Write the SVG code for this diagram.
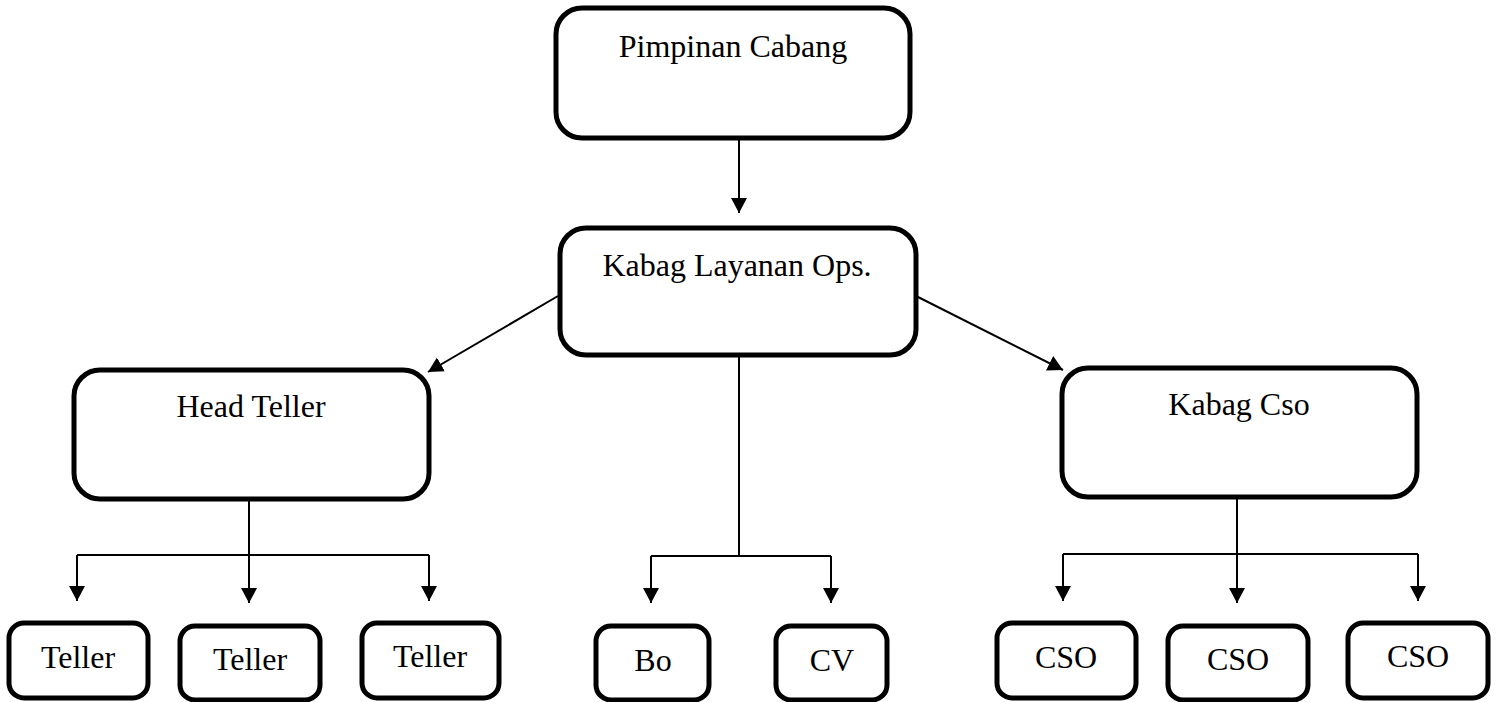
<svg xmlns="http://www.w3.org/2000/svg" width="1499" height="702" viewBox="0 0 1499 702">
<style>
.box{fill:#fff;stroke:#000;stroke-width:5}
.lbl{font-family:"Liberation Serif","Times New Roman",serif;font-size:32px;fill:#000;text-anchor:middle}
.ln{fill:none;stroke:#000;stroke-width:2}
</style>
<defs>
<marker id="ah" markerUnits="userSpaceOnUse" markerWidth="18" markerHeight="18" refX="15" refY="8" orient="auto">
<path d="M0,0 L15,8 L0,16 z" fill="#000"/>
</marker>
</defs>
<rect width="1499" height="702" fill="#fff"/>
<g id="connectors">
<line class="ln" x1="739" y1="138" x2="739" y2="213" marker-end="url(#ah)"/>
<line class="ln" x1="558" y1="296" x2="428" y2="372" marker-end="url(#ah)"/>
<line class="ln" x1="916" y1="296" x2="1063" y2="370" marker-end="url(#ah)"/>
<line class="ln" x1="249" y1="499" x2="249" y2="603" marker-end="url(#ah)"/>
<polyline class="ln" points="77,555 429,555"/>
<line class="ln" x1="77" y1="555" x2="77" y2="601" marker-end="url(#ah)"/>
<line class="ln" x1="429" y1="555" x2="429" y2="601" marker-end="url(#ah)"/>
<line class="ln" x1="739" y1="355" x2="739" y2="556"/>
<polyline class="ln" points="651,556 831,556"/>
<line class="ln" x1="651" y1="556" x2="651" y2="603" marker-end="url(#ah)"/>
<line class="ln" x1="831" y1="556" x2="831" y2="603" marker-end="url(#ah)"/>
<line class="ln" x1="1237" y1="497" x2="1237" y2="603" marker-end="url(#ah)"/>
<polyline class="ln" points="1063,554 1418,554"/>
<line class="ln" x1="1063" y1="554" x2="1063" y2="601" marker-end="url(#ah)"/>
<line class="ln" x1="1418" y1="554" x2="1418" y2="601" marker-end="url(#ah)"/>
</g>
<g id="pimpinan"><rect class="box" x="556" y="8" width="354" height="130" rx="26"/><text class="lbl" x="733" y="57">Pimpinan Cabang</text></g>
<g id="kabag-layanan"><rect class="box" x="560" y="228" width="356" height="127" rx="26"/><text class="lbl" x="737" y="276">Kabag Layanan Ops.</text></g>
<g id="head-teller"><rect class="box" x="74" y="370" width="355" height="129" rx="26"/><text class="lbl" x="251" y="417">Head Teller</text></g>
<g id="kabag-cso"><rect class="box" x="1062" y="368" width="355" height="129" rx="26"/><text class="lbl" x="1239" y="415">Kabag Cso</text></g>
<g id="teller1"><rect class="box" x="9" y="623" width="139" height="75" rx="15"/><text class="lbl" x="78" y="668">Teller</text></g>
<g id="teller2"><rect class="box" x="180" y="626" width="140" height="74" rx="15"/><text class="lbl" x="250" y="670">Teller</text></g>
<g id="teller3"><rect class="box" x="362" y="623" width="137" height="75" rx="15"/><text class="lbl" x="430" y="667">Teller</text></g>
<g id="bo"><rect class="box" x="596" y="626" width="113" height="74" rx="15"/><text class="lbl" x="653" y="671">Bo</text></g>
<g id="cv"><rect class="box" x="776" y="626" width="111" height="74" rx="15"/><text class="lbl" x="832" y="671">CV</text></g>
<g id="cso1"><rect class="box" x="997" y="623" width="139" height="75" rx="15"/><text class="lbl" x="1066" y="668">CSO</text></g>
<g id="cso2"><rect class="box" x="1168" y="626" width="140" height="74" rx="15"/><text class="lbl" x="1238" y="670">CSO</text></g>
<g id="cso3"><rect class="box" x="1348" y="623" width="140" height="75" rx="15"/><text class="lbl" x="1418" y="667">CSO</text></g>
</svg>
